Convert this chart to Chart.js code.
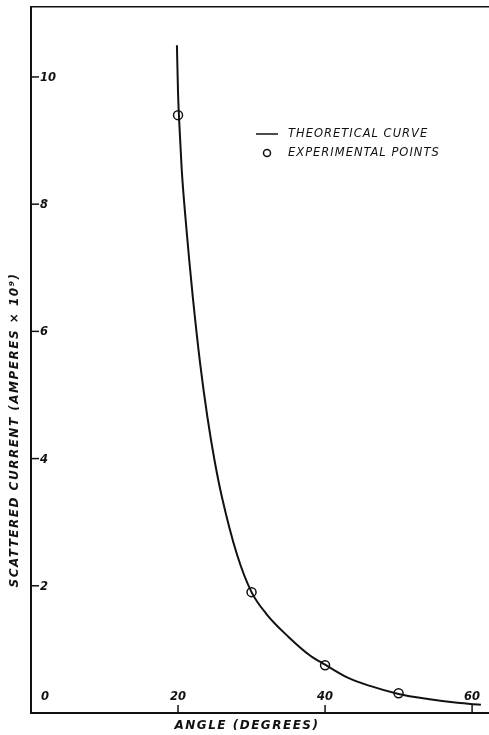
<!DOCTYPE html>
<html>
<head>
<meta charset="utf-8">
<script src="https://cdn.jsdelivr.net/npm/chart.js@4.4.1/dist/chart.umd.min.js"></script>
<style>
  html, body { margin: 0; padding: 0; background: #fff; }
  #wrap { width: 489px; height: 735px; }
</style>
</head>
<body>
<div id="wrap"><canvas id="myChart" width="489" height="735"></canvas></div>
<script>
// values
const curveAngles = [19.85, 20.0, 20.25, 20.5, 21, 21.5, 22, 23, 24, 25, 26, 28, 30, 32, 35, 38, 40, 43, 46, 50, 54, 58, 61.2];
const curveValues = [10.5, 9.75, 9.1, 8.55, 7.8, 7.15, 6.55, 5.5, 4.65, 3.95, 3.38, 2.5, 1.9, 1.56, 1.2, 0.9, 0.76, 0.56, 0.43, 0.30, 0.22, 0.16, 0.13];

const pointAngles = [20, 30, 40, 50];
const pointValues = [9.4, 1.9, 0.75, 0.31];

const xTicks = [20, 40, 60];
const yTicks = [2, 4, 6, 8, 10];

const xTitle = 'ANGLE (DEGREES)';
const yTitle = 'SCATTERED CURRENT (AMPERES × 10⁹)';
const legendLabels = ['THEORETICAL CURVE', 'EXPERIMENTAL POINTS'];

const ink = '#111';
const font = 'italic bold 11.5px "DejaVu Sans"';

// ticks, labels, titles and legend, all placed with the chart's scales
const decorations = {
  id: 'decorations',
  afterDraw(chart) {
    const { ctx, scales: { x, y } } = chart;
    ctx.save();
    ctx.strokeStyle = ink;
    ctx.fillStyle = ink;
    ctx.lineWidth = 1.5;
    ctx.font = font;

    // y ticks pointing inward, labels inside
    ctx.textAlign = 'left';
    ctx.textBaseline = 'middle';
    yTicks.forEach(v => {
      const py = y.getPixelForValue(v);
      ctx.beginPath();
      ctx.moveTo(x.left, py);
      ctx.lineTo(x.left + 8, py);
      ctx.stroke();
      ctx.fillText(String(v), x.left + 9, py + 1);
    });

    // x ticks pointing up, labels above
    ctx.textAlign = 'center';
    xTicks.forEach(v => {
      const px = x.getPixelForValue(v);
      ctx.beginPath();
      ctx.moveTo(px, y.bottom);
      ctx.lineTo(px, y.bottom - 8);
      ctx.stroke();
      ctx.fillText(String(v), px, y.bottom - 16);
    });
    // origin label
    ctx.fillText('0', x.left + 14, y.bottom - 16);

    // axis titles
    ctx.font = 'italic bold 12px "DejaVu Sans"';
    ctx.letterSpacing = '1.5px';
    ctx.fillText(xTitle, 247, 726);
    ctx.save();
    ctx.translate(15, 430);
    ctx.rotate(-Math.PI / 2);
    ctx.fillText(yTitle, 0, 0);
    ctx.restore();

    // legend
    ctx.font = 'italic 11.5px "DejaVu Sans"';
    ctx.letterSpacing = '1px';
    ctx.textAlign = 'left';
    ctx.beginPath();
    ctx.moveTo(256, 134);
    ctx.lineTo(278, 134);
    ctx.stroke();
    ctx.fillText(legendLabels[0], 288, 134);
    ctx.beginPath();
    ctx.arc(267, 153, 3.5, 0, Math.PI * 2);
    ctx.fillStyle = '#fff';
    ctx.fill();
    ctx.stroke();
    ctx.fillStyle = ink;
    ctx.fillText(legendLabels[1], 288, 153);

    ctx.restore();
  }
};

const ctx = document.getElementById('myChart');

const bareAxis = {
  grid: { display: false, drawTicks: false },
  ticks: { display: false }
};

new Chart(ctx, {
  type: 'scatter',
  data: {
    datasets: [{
      label: legendLabels[0],
      data: curveAngles.map((a, i) => ({ x: a, y: curveValues[i] })),
      showLine: true,
      borderColor: ink,
      borderWidth: 2,
      pointRadius: 0,
      cubicInterpolationMode: 'monotone'
    }, {
      label: legendLabels[1],
      data: pointAngles.map((a, i) => ({ x: a, y: pointValues[i] })),
      showLine: false,
      pointRadius: 4.5,
      pointBorderWidth: 1.5,
      pointBorderColor: ink,
      pointBackgroundColor: '#fff'
    }]
  },
  options: {
    responsive: false,
    animation: false,
    devicePixelRatio: 1,
    layout: {
      autoPadding: false,
      padding: { left: 31, top: 7, right: 0, bottom: 22 }
    },
    plugins: {
      legend: { display: false },
      tooltip: { enabled: false }
    },
    scales: {
      x: {
        ...bareAxis,
        type: 'linear',
        min: 0,
        max: 62.3,
        border: { display: true, color: ink, width: 2 }
      },
      x2: {
        ...bareAxis,
        type: 'linear',
        position: 'top',
        min: 0,
        max: 62.3,
        border: { display: true, color: ink, width: 1.5 }
      },
      y: {
        ...bareAxis,
        min: 0,
        max: 11.1,
        border: { display: true, color: ink, width: 2 }
      }
    }
  },
  plugins: [decorations]
});
</script>
</body>
</html>
